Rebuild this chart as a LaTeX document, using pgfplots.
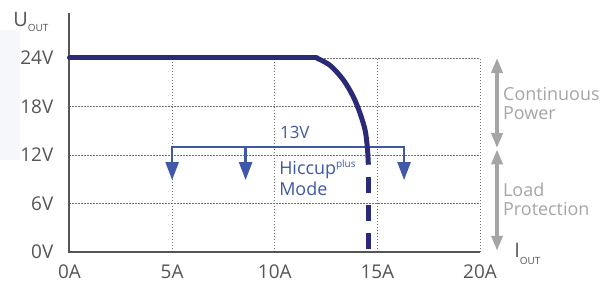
\documentclass[border=0pt]{standalone}
\usepackage{pgfplots}
\pgfplotsset{compat=1.18}
\usepackage{fontspec}
\setmainfont{Open Sans}
\usetikzlibrary{arrows.meta}
\definecolor{navy}{HTML}{2B2A78}
\definecolor{hblue}{HTML}{4058A8}
\definecolor{lgray}{HTML}{A5A5A5}
\definecolor{tgray}{HTML}{555555}
\definecolor{ggray}{HTML}{707070}
\definecolor{panel}{HTML}{F5F7FB}
\begin{document}
\begin{tikzpicture}
\useasboundingbox (-69.5bp,-30bp) rectangle (534.5bp,252bp);
\fill[panel] (-69.5bp,92bp) rectangle (-49.5bp,222bp);
\begin{axis}[at={(0,0)},anchor=south west,
  scale only axis, width=410.5bp, height=194bp,
  xmin=0,xmax=20,ymin=0,ymax=24, clip=false,
  axis line style={draw=none}, major tick length=0pt,
  xtick={0,5,10,15,20}, xticklabels={0A,5A,10A,15A,20A},
  ytick={0,6,12,18,24}, yticklabels={0V,6V,12V,18V,24V},
  grid=major,
  major grid style={ggray, line width=0.8bp, dash pattern=on 1.5bp off 1.5bp},
  tick label style={font=\fontsize{19}{19}\selectfont, text=tgray, inner sep=0pt},
  xticklabel style={anchor=base, yshift=-26bp},
  yticklabel style={anchor=east, xshift=-16bp},
]
% 13V hiccup line with arrows
\addplot[hblue, line width=2.5bp, line join=miter, {Triangle[width=13bp,length=18bp]}-{Triangle[width=13bp,length=18bp]}]
  coordinates {(5,8.9)(5,13)(16.3,13)(16.3,8.9)};
\addplot[hblue, line width=2.5bp, -{Triangle[width=13bp,length=18bp]}]
  coordinates {(8.58,13)(8.58,8.9)};
% axis lines
\draw[tgray, line width=2bp, line join=miter] (axis cs:0,29.6) -- (axis cs:0,0) -- (axis cs:20,0);
% main curve
\addplot[navy, line width=5bp, line cap=round] coordinates {(0,24)(12.04,24)};
\addplot[navy, line width=5bp, smooth] coordinates {(12.04,24)(12.69,23.1)(13.34,21.3)(13.83,19.2)(14.15,17.2)(14.40,15.1)(14.51,13.0)(14.56,10.8)};
\addplot[navy, line width=5bp, dash pattern=on 16bp off 12bp, dash phase=16bp] coordinates {(14.56,10.8)(14.56,0)};
% gray double arrows
\draw[lgray, line width=3.5bp, {Triangle[width=11bp,length=15bp]}-{Triangle[width=11bp,length=15bp]}] (axis cs:20.83,24) -- (axis cs:20.83,12.85);
\draw[lgray, line width=3.5bp, {Triangle[width=11bp,length=15bp]}-{Triangle[width=11bp,length=15bp]}] (axis cs:20.83,12.7) -- (axis cs:20.83,0.15);
% texts
\node[anchor=base west, inner sep=0pt, text=lgray, font=\fontsize{18}{18}\selectfont] at (axis cs:21.12,18.8) {Continuous};
\node[anchor=base west, inner sep=0pt, text=lgray, font=\fontsize{18}{18}\selectfont] at (axis cs:21.12,16.42) {Power};
\node[anchor=base west, inner sep=0pt, text=lgray, font=\fontsize{18}{18}\selectfont] at (axis cs:21.12,6.84) {Load};
\node[anchor=base west, inner sep=0pt, text=lgray, font=\fontsize{18}{18}\selectfont] at (axis cs:21.12,4.49) {Protection};
\node[anchor=base west, inner sep=0pt, text=hblue, font=\fontsize{17}{17}\selectfont] at (axis cs:10.25,14.1) {13V};
\node[anchor=base west, inner sep=0pt, text=hblue, font=\fontsize{18}{18}\selectfont] at (axis cs:10.21,9.53) {Hiccup\raisebox{7bp}{\fontsize{10}{10}\selectfont plus}};
\node[anchor=base west, inner sep=0pt, text=hblue, font=\fontsize{18}{18}\selectfont] at (axis cs:10.21,7.05) {Mode};
\node[anchor=base west, inner sep=0pt, text=tgray, font=\fontsize{20}{20}\selectfont] at (axis cs:-2.75,27.84) {U\raisebox{-5bp}{\fontsize{10}{10}\selectfont OUT}};
\node[anchor=base west, inner sep=0pt, text=tgray, font=\fontsize{20}{20}\selectfont] at (axis cs:21.66,-0.62) {I\raisebox{-7bp}{\fontsize{10}{10}\selectfont OUT}};
\end{axis}
\end{tikzpicture}
\end{document}
